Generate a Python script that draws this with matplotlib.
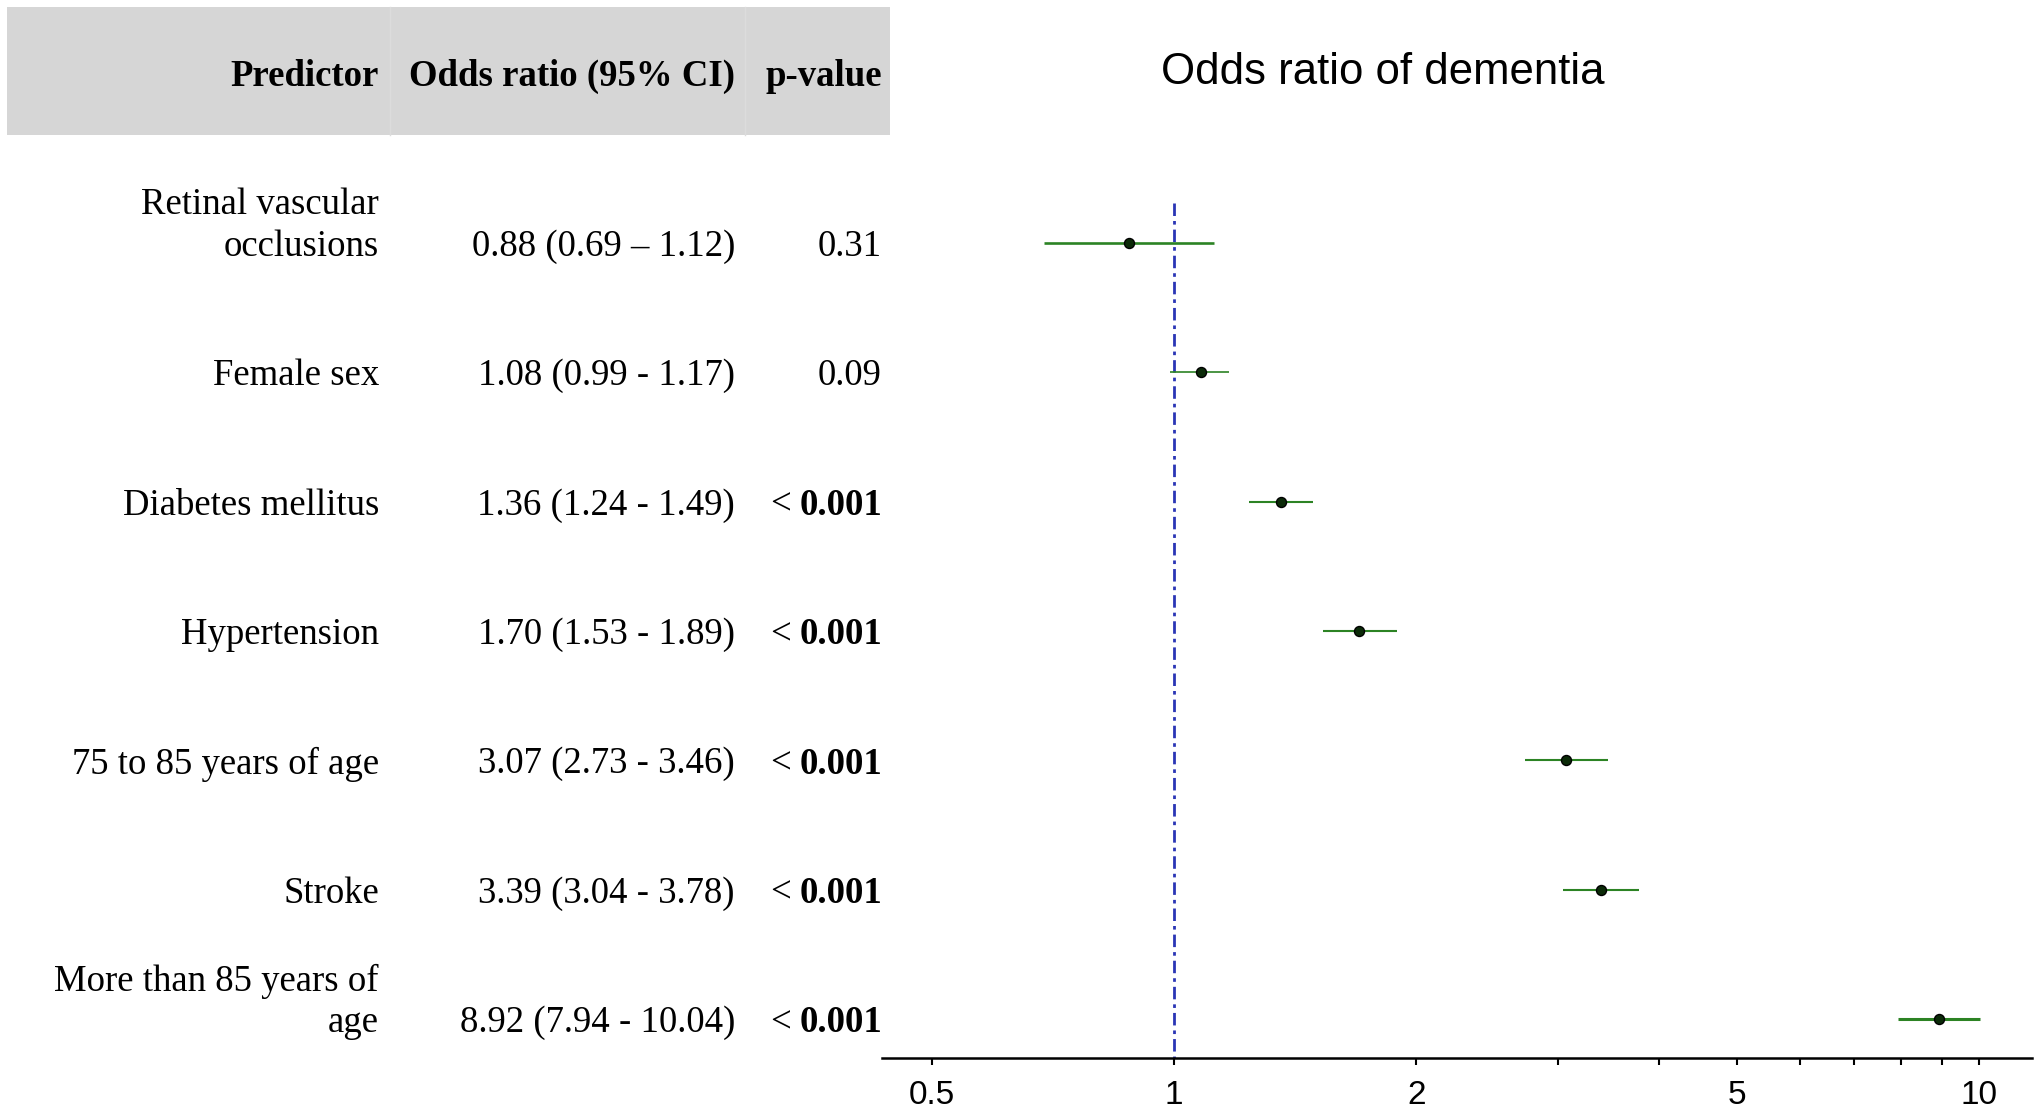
import matplotlib
matplotlib.use("Agg")
import matplotlib.pyplot as plt
import matplotlib.patches as patches
import matplotlib.transforms as mtransforms

# data
predictors = ["Retinal vascular\nocclusions", "Female sex", "Diabetes mellitus",
              "Hypertension", "75 to 85 years of age", "Stroke",
              "More than 85 years of\nage"]
odds = [0.88, 1.08, 1.36, 1.70, 3.07, 3.39, 8.92]
ci_low = [0.69, 0.99, 1.24, 1.53, 2.73, 3.04, 7.94]
ci_high = [1.12, 1.17, 1.49, 1.89, 3.46, 3.78, 10.04]
ci_text = ["0.88 (0.69 \u2013 1.12)", "1.08 (0.99 - 1.17)", "1.36 (1.24 - 1.49)",
           "1.70 (1.53 - 1.89)", "3.07 (2.73 - 3.46)", "3.39 (3.04 - 3.78)",
           "8.92 (7.94 - 10.04)"]
p_values = ["0.31", "0.09", "< 0.001", "< 0.001", "< 0.001", "< 0.001", "< 0.001"]
major_ticks = [0.5, 1, 2, 5, 10]
minor_ticks = [3, 4, 6, 7, 8, 9]

# styles
line_w = [1.9, 1.2, 1.5, 1.5, 1.5, 1.5, 2.2]
green = "#2c8324"
serif = "Liberation Serif"
sans = "Liberation Sans"
fs = 26.5

W, H = 2040, 1113
fig = plt.figure(figsize=(W / 100, H / 100), dpi=100)

# grey header band
fig.patches.append(patches.Rectangle((7 / W, 1 - 135 / H), (890 - 7) / W, 128 / H,
                                     transform=fig.transFigure, facecolor="#d6d6d6",
                                     edgecolor="none", zorder=0))
for xd in [390, 745]:
    fig.add_artist(plt.Line2D([xd / W, xd / W], [1 - 135 / H, 1 - 7 / H],
                              transform=fig.transFigure, color="#dcdcdc", lw=1))

hy = 1 - 76 / H
fig.text(379 / W, hy, "Predictor", ha="right", va="center", fontsize=fs,
         fontweight="bold", family=serif)
fig.text(735 / W, hy, "Odds ratio (95% CI)", ha="right", va="center", fontsize=fs,
         fontweight="bold", family=serif)
fig.text(882 / W, hy, "p-value", ha="right", va="center", fontsize=fs,
         fontweight="bold", family=serif)

fig.text(1383 / W, 1 - 72 / H, "Odds ratio of dementia", ha="center", va="center",
         fontsize=31.5, family=sans)

# forest axes
ax = fig.add_axes([882 / W, 1 - 1058 / H, (2032 - 882) / W, (1058 - 135) / H])
ax.set_xscale("log")
ax.set_xlim(0.4338, 11.64)
ax.set_ylim(6.30, -0.835)

rows = list(range(len(predictors)))
ax.vlines(1, -0.31, 6.30, color="#2a35b5", lw=2,
          linestyle=(0, (4.5, 1.8, 1.3, 1.8)), zorder=1)
for y, lo, hi, lw in zip(rows, ci_low, ci_high, line_w):
    ax.hlines(y, lo, hi, color=green, lw=lw, zorder=2)
ax.plot(odds, rows, "o", color="black", markersize=7.2, zorder=3,
        markerfacecolor="#0b2a08", markeredgecolor="black")

for s in ["left", "top", "right"]:
    ax.spines[s].set_visible(False)
ax.spines["bottom"].set_linewidth(1.8)
ax.yaxis.set_visible(False)
ax.set_xticks(major_ticks)
ax.set_xticklabels([f"{t:g}" for t in major_ticks])
ax.set_xticks(minor_ticks, minor=True)
ax.set_xticklabels([], minor=True)
ax.tick_params(axis="x", which="both", length=5, width=1.5, direction="out", pad=11)
ax.tick_params(axis="x", which="major", labelsize=24)
for lab in ax.get_xticklabels():
    lab.set_family(sans)

# table text
tr = mtransforms.blended_transform_factory(fig.transFigure, ax.transData)
line_gap = 0.32
dy = 0.028
for y, name, ci, p in zip(rows, predictors, ci_text, p_values):
    ty = y + dy
    for k, part in enumerate(reversed(name.split("\n"))):
        ax.text(379 / W, ty - k * line_gap, part, transform=tr, ha="right",
                va="center", fontsize=fs, family=serif)
    ax.text(735 / W, ty, ci, transform=tr, ha="right", va="center",
            fontsize=fs, family=serif)
    if p.startswith("<"):
        bt = ax.text(882 / W, ty, p[1:].strip(), transform=tr, ha="right",
                     va="center", fontsize=fs, fontweight="bold", family=serif)
        ax.annotate("<", xy=(0, 0.5), xycoords=bt, xytext=(-6, 0),
                    textcoords="offset points", ha="right", va="center",
                    fontsize=fs, family=serif)
    else:
        ax.text(882 / W, ty, p, transform=tr, ha="right", va="center",
                fontsize=fs, family=serif)

fig.savefig("out.png", dpi=100)
